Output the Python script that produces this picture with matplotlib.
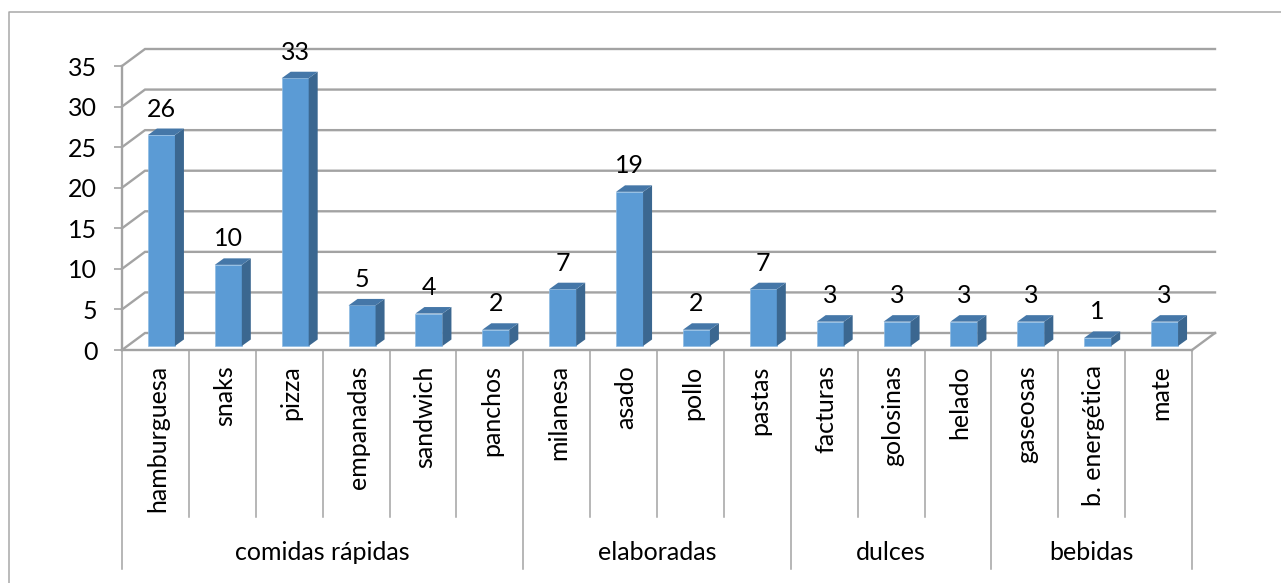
import matplotlib
matplotlib.use('Agg')
import matplotlib.pyplot as plt
from matplotlib.lines import Line2D
from matplotlib.patches import Polygon
from matplotlib.transforms import ScaledTranslation

categories = ['hamburguesa', 'snaks', 'pizza', 'empanadas', 'sandwich', 'panchos',
              'milanesa', 'asado', 'pollo', 'pastas',
              'facturas', 'golosinas', 'helado',
              'gaseosas', 'b. energética', 'mate']
values = [26, 10, 33, 5, 4, 2, 7, 19, 2, 7, 3, 3, 3, 3, 1, 3]
groups = ['comidas rápidas', 'elaboradas', 'dulces', 'bebidas']
group_sizes = [6, 4, 3, 3]
y_ticks = [0, 5, 10, 15, 20, 25, 30, 35]

W, H = 1281, 583
LEFT, RIGHT, TOP, BOTTOM = 122, 1192, 66, 350
GRID = '#a3a3a3'
FRONT = '#5b9bd5'
SIDE = '#3b6790'
CAP = '#4577a8'
FONT_SIZE = 18

plt.rcParams['font.family'] = ['Lato', 'DejaVu Sans']

fig = plt.figure(figsize=(W / 100, H / 100), dpi=100, facecolor='white')
ax = fig.add_axes([LEFT / W, 1 - BOTTOM / H, (RIGHT - LEFT) / W, (BOTTOM - TOP) / H])
ax.set_xlim(0, len(categories))
ax.set_ylim(0, 35)
ax.patch.set_visible(False)

# pixels to data units, for the fake 3d depth
px_x = len(categories) / (RIGHT - LEFT)
px_y = 35 / (BOTTOM - TOP)

# outer frame, cut off by the image on the right and bottom
fig.add_artist(Line2D([8.5 / W, 8.5 / W, 1], [0, 1 - 11.5 / H, 1 - 11.5 / H], color='#a8a8a8', lw=1.1))

# back wall and floor
wall_dx = 23 * px_x
wall_dy = 17 * px_y
for v in y_ticks:
    ax.plot([0, wall_dx, len(categories) + wall_dx], [v, v + wall_dy, v + wall_dy],
            color=GRID, lw=1.7, clip_on=False, zorder=1, solid_joinstyle='miter')
ax.plot([len(categories), len(categories) + wall_dx], [0, wall_dy], color=GRID, lw=1.7, clip_on=False, zorder=1)

# bars
bar_w = 27 * px_x
bar_off = 6 * px_x
side_dx = 9 * px_x
side_dy = 6.5 * px_y
base = 4 * px_y
xs = [i + 0.5 + bar_off for i in range(len(values))]
ax.bar(xs, values, width=bar_w, bottom=base, color=FRONT, edgecolor='#8fbbe3', lw=0.5, zorder=3, clip_on=False)
for x, v in zip(xs, values):
    x0, x1 = x - bar_w / 2, x + bar_w / 2
    top = v + base
    ax.add_patch(Polygon([(x1, base), (x1 + side_dx, base + side_dy), (x1 + side_dx, top + side_dy), (x1, top)],
                         facecolor=SIDE, edgecolor='none', zorder=3, clip_on=False))
    ax.add_patch(Polygon([(x0, top), (x0 + side_dx, top + side_dy), (x1 + side_dx, top + side_dy), (x1, top)],
                         facecolor=CAP, edgecolor='none', zorder=3, clip_on=False))
    ax.text(x, top + 26 * px_y, str(v), ha='center', va='center', fontsize=FONT_SIZE, color='black', zorder=4,
            clip_on=False)

# axes
for s in ['top', 'right']:
    ax.spines[s].set_visible(False)
for s in ['left', 'bottom']:
    ax.spines[s].set_color(GRID)
    ax.spines[s].set_linewidth(1.7)
    ax.spines[s].set_zorder(2)
ax.set_yticks(y_ticks)
ax.tick_params(axis='y', length=5.8, width=1.2, color=GRID, labelsize=FONT_SIZE, pad=12, labelcolor='black')
ax.set_xticks([i + 0.5 for i in range(len(categories))])
ax.set_xticklabels(categories, rotation=90, fontsize=FONT_SIZE, color='black', va='top', ha='center')
ax.tick_params(axis='x', length=0, pad=11)
label_shift = ScaledTranslation(2 / 100, 0, fig.dpi_scale_trans)
for lab in ax.get_xticklabels():
    lab.set_transform(lab.get_transform() + label_shift)

# separators under the axis
short_end = -(517 - BOTTOM) * px_y
long_end = -(569 - BOTTOM) * px_y
group_edges = [0]
for n in group_sizes:
    group_edges.append(group_edges[-1] + n)
for i in range(len(categories) + 1):
    end = long_end if i in group_edges else short_end
    ax.plot([i, i], [0, end], color=GRID, lw=1.1, clip_on=False, zorder=1)
for name, a, b in zip(groups, group_edges[:-1], group_edges[1:]):
    ax.text((a + b) / 2, -(553 - BOTTOM) * px_y, name, ha='center', va='center', fontsize=FONT_SIZE,
            color='black', clip_on=False)

fig.savefig('out.png', dpi=100, facecolor='white')
